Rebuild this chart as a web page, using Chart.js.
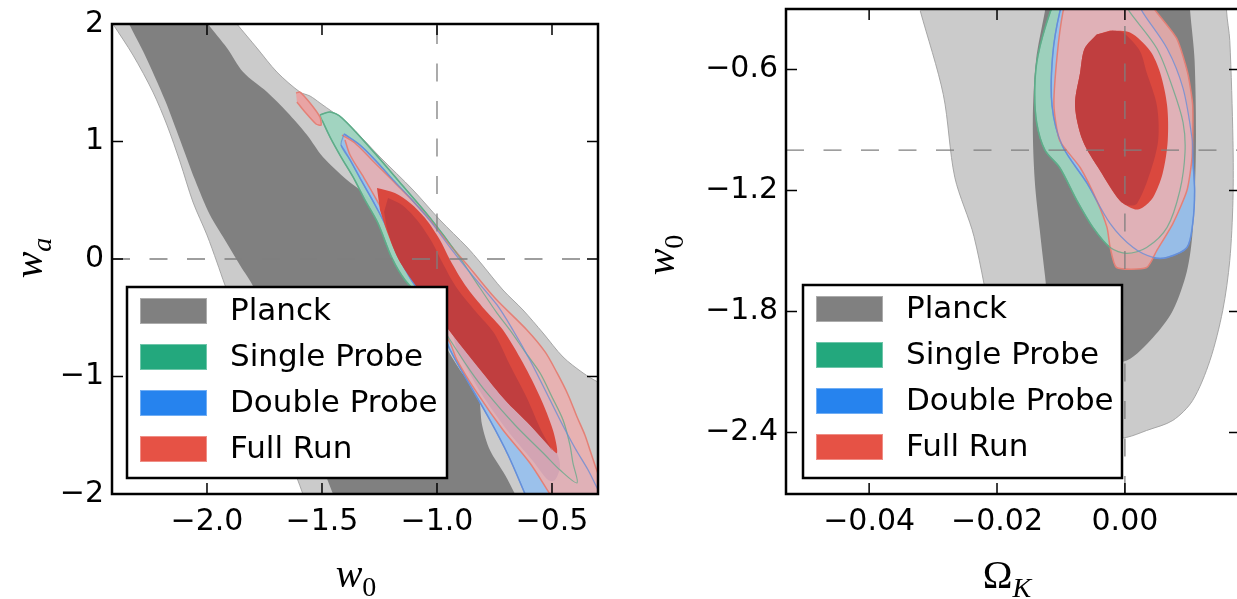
<!DOCTYPE html>
<html><head><meta charset="utf-8">
<script src="https://cdn.jsdelivr.net/npm/chart.js@4.4.1/dist/chart.umd.min.js"></script>
<style>
html,body{margin:0;padding:0;background:#fff;overflow:hidden;width:1237px;height:599px}
#wrap{position:relative;width:1237px;height:599px;overflow:hidden;background:#fff}
#c1{position:absolute;left:0;top:0;width:620px;height:599px}
#c2{position:absolute;left:620px;top:0;width:640px;height:599px}
</style></head><body>
<div id="wrap"><canvas id="c1" width="620" height="599"></canvas><canvas id="c2" width="640" height="599"></canvas></div>
<script>
// ---------------- legend / ticks ----------------
const legendLabels = ['Planck', 'Single Probe', 'Double Probe', 'Full Run'];
const legendColors = ['#808080', '#23a87d', '#2683ee', '#e65245'];
const w0TicksLeft = [-2.0, -1.5, -1.0, -0.5];
const waTicks = [-2, -1, 0, 1, 2];
const okTicks = [-0.04, -0.02, 0.00];
const w0TicksRight = [-2.4, -1.8, -1.2, -0.6];
const w0Fiducial = -1.0, waFiducial = 0.0, okFiducial = 0.0;

// ---------------- left panel: (w0, wa) contours ----------------
const planck95_w0wa = [[-2.44,2.10],[-1.91,2.10],[-1.870,2.00],[-1.783,1.796],[-1.696,1.591],[-1.596,1.421],[-1.552,1.387],[-1.509,1.328],[-1.391,1.157],[-1.248,0.868],[-1.104,0.587],[-0.987,0.332],[-0.870,0.102],[-0.813,-0.026],[-0.713,-0.264],[-0.626,-0.434],[-0.539,-0.630],[-0.452,-0.834],[-0.365,-0.970],[-0.300,-1.047],[-0.25,-1.08],[-0.25,-2.10],[-1.57,-2.10],[-1.583,-2.00],[-1.704,-1.370],[-1.813,-0.774],[-1.922,-0.221],[-1.957,-0.026],[-2.000,0.204],[-2.061,0.485],[-2.117,0.826],[-2.174,1.140],[-2.235,1.421],[-2.322,1.736],[-2.409,2.00]];
const planck68_w0wa = [[-2.365,2.10],[-2.03,2.10],[-1.996,2.00],[-1.913,1.796],[-1.843,1.591],[-1.739,1.421],[-1.652,1.251],[-1.565,1.055],[-1.496,0.868],[-1.391,0.672],[-1.335,0.587],[-1.248,0.417],[-1.174,0.187],[-1.139,-0.009],[-1.117,-0.221],[-1.030,-0.519],[-0.900,-0.945],[-0.822,-1.157],[-0.804,-1.413],[-0.770,-1.626],[-0.704,-1.838],[-0.661,-2.00],[-0.639,-2.10],[-1.43,-2.10],[-1.452,-2.00],[-1.509,-1.711],[-1.639,-1.030],[-1.791,-0.264],[-1.857,-0.051],[-1.922,0.162],[-1.987,0.374],[-2.052,0.672],[-2.117,1.013],[-2.183,1.353],[-2.270,1.736],[-2.339,2.00]];
const single95_w0wa = [[-1.509,1.226],[-1.465,1.251],[-1.413,1.200],[-1.283,0.928],[-1.152,0.630],[-1.030,0.349],[-0.909,0.034],[-0.813,-0.247],[-0.739,-0.460],[-0.683,-0.604],[-0.617,-0.791],[-0.552,-0.970],[-0.500,-1.174],[-0.452,-1.370],[-0.422,-1.583],[-0.409,-1.736],[-0.391,-1.906],[-0.465,-1.796],[-0.530,-1.668],[-0.661,-1.413],[-0.783,-1.140],[-0.857,-0.945],[-0.943,-0.689],[-1.030,-0.417],[-1.139,-0.179],[-1.196,0.009],[-1.257,0.306],[-1.313,0.502],[-1.365,0.698],[-1.417,0.868],[-1.465,1.038],[-1.500,1.183]];
const double95_w0wa = [[-1.404,1.064],[-1.335,0.970],[-1.261,0.826],[-1.191,0.672],[-1.109,0.502],[-1.022,0.306],[-0.935,0.077],[-0.848,-0.136],[-0.739,-0.391],[-0.670,-0.604],[-0.596,-0.860],[-0.530,-1.115],[-0.465,-1.370],[-0.400,-1.609],[-0.343,-1.796],[-0.304,-1.949],[-0.287,-2.017],[-0.28,-2.10],[-0.596,-2.10],[-0.617,-2.00],[-0.691,-1.668],[-0.770,-1.370],[-0.857,-1.072],[-0.943,-0.774],[-0.987,-0.562],[-1.052,-0.349],[-1.117,-0.162],[-1.170,0.034],[-1.222,0.281],[-1.274,0.477],[-1.330,0.672],[-1.378,0.843],[-1.417,0.970]];
const double68_w0wa = [[-0.935,-0.604],[-0.913,-0.774],[-0.878,-0.902],[-0.809,-1.140],[-0.696,-1.455],[-0.583,-1.719],[-0.517,-1.881],[-0.487,-1.881],[-0.465,-1.762],[-0.483,-1.626],[-0.552,-1.370],[-0.661,-1.115],[-0.770,-0.817],[-0.857,-0.562],[-0.922,-0.391]];
const full95_w0wa = [[-1.413,1.055],[-1.357,0.987],[-1.283,0.843],[-1.204,0.689],[-1.117,0.519],[-1.030,0.332],[-0.943,0.119],[-0.857,-0.077],[-0.748,-0.332],[-0.609,-0.604],[-0.530,-0.791],[-0.478,-0.970],[-0.430,-1.157],[-0.391,-1.345],[-0.357,-1.498],[-0.335,-1.626],[-0.309,-1.779],[-0.291,-1.881],[-0.28,-2.10],[-0.474,-2.10],[-0.509,-2.00],[-0.596,-1.736],[-0.713,-1.455],[-0.826,-1.140],[-0.913,-0.860],[-0.943,-0.715],[-1.000,-0.519],[-1.083,-0.221],[-1.148,0.043],[-1.200,0.281],[-1.257,0.485],[-1.317,0.689],[-1.378,0.885],[-1.400,1.013]];
const full95island_w0wa = [[-1.613,1.413],[-1.596,1.421],[-1.552,1.328],[-1.509,1.209],[-1.504,1.140],[-1.526,1.149],[-1.574,1.251],[-1.609,1.336]];
const full68_w0wa = [[-1.261,0.604],[-1.183,0.562],[-1.117,0.477],[-1.052,0.349],[-0.987,0.162],[-0.943,-0.009],[-0.878,-0.221],[-0.791,-0.434],[-0.713,-0.604],[-0.626,-0.885],[-0.552,-1.174],[-0.496,-1.455],[-0.478,-1.651],[-0.517,-1.583],[-0.596,-1.413],[-0.704,-1.200],[-0.804,-0.962],[-0.891,-0.749],[-0.965,-0.562],[-1.039,-0.366],[-1.109,-0.179],[-1.170,0.009],[-1.217,0.230],[-1.248,0.417]];
const full68core_w0wa = [[-1.213,0.519],[-1.152,0.460],[-1.087,0.332],[-1.022,0.145],[-0.978,-0.026],[-0.917,-0.238],[-0.830,-0.451],[-0.752,-0.630],[-0.683,-0.902],[-0.609,-1.183],[-0.548,-1.455],[-0.500,-1.626],[-0.517,-1.583],[-0.596,-1.413],[-0.704,-1.200],[-0.804,-0.962],[-0.891,-0.749],[-0.965,-0.562],[-1.039,-0.366],[-1.109,-0.179],[-1.170,0.009],[-1.213,0.230],[-1.230,0.400]];

// ---------------- right panel: (Omega_K, w0) contours ----------------
const planck95_okw0 = [[-0.0335,-0.20],[0.0160,-0.20],[0.0159,-0.310],[0.0164,-0.456],[0.0169,-0.952],[0.0169,-1.250],[0.0164,-1.547],[0.0153,-1.795],[0.0133,-2.043],[0.0106,-2.241],[0.0075,-2.340],[0.0034,-2.390],[0.0003,-2.424],[-0.0040,-2.440],[-0.0086,-2.439],[-0.0148,-2.365],[-0.0188,-2.190],[-0.0205,-1.919],[-0.0236,-1.428],[-0.0266,-1.135],[-0.0284,-0.724],[-0.0320,-0.310]];
const planck68_okw0 = [[-0.0128,-0.20],[0.0100,-0.20],[0.0102,-0.310],[0.0109,-0.555],[0.0111,-1.000],[0.0106,-1.400],[0.0097,-1.600],[0.0075,-1.795],[0.0044,-1.929],[0.0003,-2.043],[-0.0039,-2.050],[-0.0078,-2.000],[-0.0105,-1.890],[-0.0120,-1.745],[-0.0125,-1.621],[-0.0133,-1.400],[-0.0141,-1.150],[-0.0144,-0.853],[-0.0139,-0.555],[-0.0125,-0.310]];
const single95_okw0 = [[-0.0100,-0.20],[-0.0117,-0.317],[-0.0136,-0.531],[-0.0141,-0.694],[-0.0138,-0.863],[-0.0125,-1.000],[-0.0102,-1.086],[-0.0075,-1.250],[-0.0050,-1.383],[-0.0023,-1.483],[0.0003,-1.512],[0.0034,-1.483],[0.0066,-1.383],[0.0086,-1.200],[0.0094,-1.011],[0.0091,-0.863],[0.0075,-0.694],[0.0050,-0.496],[0.0008,-0.317],[-0.0016,-0.20]];
const double95_okw0 = [[-0.0089,-0.20],[-0.0102,-0.317],[-0.0113,-0.531],[-0.0114,-0.778],[-0.0098,-0.977],[-0.0059,-1.165],[-0.0023,-1.364],[0.0013,-1.483],[0.0044,-1.532],[0.0066,-1.532],[0.0097,-1.483],[0.0106,-1.364],[0.0109,-1.200],[0.0106,-1.036],[0.0105,-0.942],[0.0091,-0.694],[0.0066,-0.496],[0.0028,-0.317],[0.0008,-0.20]];
const full95_okw0 = [[-0.0086,-0.20],[-0.0097,-0.317],[-0.0106,-0.531],[-0.0111,-0.778],[-0.0102,-0.952],[-0.0070,-1.086],[-0.0044,-1.250],[-0.0028,-1.383],[-0.0023,-1.483],[-0.0013,-1.582],[0.0034,-1.582],[0.0050,-1.497],[0.0075,-1.364],[0.0097,-1.200],[0.0105,-1.036],[0.0106,-0.778],[0.0098,-0.615],[0.0081,-0.446],[0.0050,-0.317],[0.0023,-0.20]];
const full68_okw0 = [[-0.0023,-0.407],[0.0008,-0.417],[0.0039,-0.506],[0.0055,-0.615],[0.0066,-0.778],[0.0067,-0.952],[0.0059,-1.116],[0.0044,-1.235],[0.0028,-1.284],[0.0016,-1.294],[-0.0008,-1.250],[-0.0039,-1.101],[-0.0066,-0.952],[-0.0078,-0.778],[-0.0070,-0.615],[-0.0063,-0.496],[-0.0044,-0.426]];
const full68core_okw0 = [[-0.0019,-0.407],[-0.0003,-0.417],[0.0023,-0.506],[0.0034,-0.615],[0.0050,-0.778],[0.0052,-0.952],[0.0039,-1.116],[0.0019,-1.264],[0.0005,-1.274],[-0.0008,-1.250],[-0.0039,-1.101],[-0.0066,-0.952],[-0.0078,-0.778],[-0.0070,-0.615],[-0.0063,-0.496],[-0.0044,-0.426]];

// ---------------- styles ----------------
const C = {
  p95: '#cbcbcb', p95e: 'rgba(160,160,160,0.9)', p68: '#808080',
  g95: 'rgba(158,212,191,0.95)', g95e: 'rgb(95,178,142)', g95o: 'rgba(95,170,135,0.75)',
  b95: 'rgba(152,192,236,0.95)', b95e: 'rgb(105,150,225)', b95o: 'rgba(100,140,215,0.75)', b68: 'rgb(70,110,205)',
  r95: 'rgba(236,174,174,0.85)', r95e: 'rgb(228,128,118)',
  r68: 'rgb(218,72,62)', r68c: 'rgb(192,62,63)', dash: '#7f7f7f'
};
const toXY = a => a.map(p => ({x: p[0], y: p[1]}));
function region(pts, fill, edge, edgeW, tension) {
  return { data: toXY(pts), showLine: true, fill: 'shape', backgroundColor: fill,
    borderColor: edge || 'rgba(0,0,0,0)', borderWidth: edge ? edgeW : 0.01,
    pointRadius: 0, tension: tension === undefined ? 0.3 : tension, clip: 0 };
}
function outline(pts, color, w) {
  const p = pts.concat([pts[0]]);
  return { data: toXY(p), showLine: true, fill: false, borderColor: color, borderWidth: w,
    pointRadius: 0, tension: 0.3, clip: 0 };
}
function dashLine(pts) {
  return { data: toXY(pts), showLine: true, fill: false, borderColor: C.dash, borderWidth: 1.3,
    borderDash: [18, 19.5], pointRadius: 0, tension: 0, clip: 0 };
}
function ordered(ds) { ds.forEach((d, i) => d.order = ds.length - i); return ds; }
function fmt(v, dec) { const s = Math.abs(v) < 1e-12 ? (0).toFixed(dec) : v.toFixed(dec); return s.replace('-', '\u2212'); }

function drawTitle(ctx, T) {
  ctx.save();
  ctx.translate(T.x, T.y);
  if (T.rot) ctx.rotate(T.rot);
  let w = 0;
  T.parts.forEach(p => { ctx.font = p.f; p.w = ctx.measureText(p.t).width; w += p.w + (p.gap || 0); });
  let cx = -w / 2;
  ctx.fillStyle = '#000'; ctx.textBaseline = 'alphabetic'; ctx.textAlign = 'left';
  T.parts.forEach(p => { ctx.font = p.f; ctx.fillText(p.t, cx + (p.gap || 0), p.dy || 0); cx += p.w + (p.gap || 0); });
  ctx.restore();
}

const decor = {
  id: 'panelDecor',
  afterDraw(chart, args, o) {
    const {ctx, chartArea: a, scales: {x, y}} = chart;
    ctx.save();
    ctx.strokeStyle = '#000'; ctx.lineWidth = 1.5;
    const tl = 11;
    ctx.beginPath();
    x.ticks.forEach(t => { const px = x.getPixelForValue(t.value);
      ctx.moveTo(px, a.bottom); ctx.lineTo(px, a.bottom - tl); ctx.moveTo(px, a.top); ctx.lineTo(px, a.top + tl); });
    y.ticks.forEach(t => { const py = y.getPixelForValue(t.value);
      ctx.moveTo(a.left, py); ctx.lineTo(a.left + tl, py); ctx.moveTo(a.right, py); ctx.lineTo(a.right - tl, py); });
    ctx.stroke();
    ctx.lineWidth = 2.5;
    ctx.strokeRect(a.left, a.top, a.right - a.left, a.bottom - a.top);
    const L = o.legend;
    const bx = a.left + L.dx, by = a.bottom - L.dy - L.h;
    ctx.fillStyle = '#fff'; ctx.fillRect(bx, by, L.w, L.h);
    ctx.lineWidth = 2.5; ctx.strokeStyle = '#000'; ctx.strokeRect(bx, by, L.w, L.h);
    ctx.font = '31px "DejaVu Sans"'; ctx.textBaseline = 'middle'; ctx.textAlign = 'left';
    legendLabels.forEach((lab, i) => {
      const cy = by + 24 + 46 * i;
      ctx.fillStyle = legendColors[i];
      ctx.fillRect(bx + 13, cy - 13, 67, 26);
      ctx.lineWidth = 1; ctx.strokeStyle = 'rgba(255,255,255,0.35)';
      ctx.strokeRect(bx + 13.5, cy - 12.5, 66, 25);
      ctx.fillStyle = '#000';
      ctx.fillText(lab, bx + 103, cy + 1);
    });
    drawTitle(ctx, o.xTitle);
    drawTitle(ctx, o.yTitle);
    ctx.restore();
  }
};

const tickFont = {family: 'DejaVu Sans', size: 30};
function makeChart(canvas, datasets, cfg) {
  return new Chart(canvas, {
    type: 'scatter',
    data: {datasets},
    options: {
      responsive: false, animation: false, events: [], indexAxis: 'y',
      layout: {padding: {left: 0, top: cfg.top, right: cfg.right, bottom: 0}},
      elements: {line: {capBezierPoints: false}, point: {radius: 0}},
      plugins: {legend: {display: false}, tooltip: {enabled: false}, panelDecor: cfg.decor},
      scales: {
        x: {type: 'linear', position: 'bottom', min: cfg.xMin, max: cfg.xMax,
          afterBuildTicks: s => { s.ticks = cfg.xTicks.map(v => ({value: v})); },
          afterFit: s => { s.height = cfg.xAxisH; s.paddingLeft = 0; s.paddingRight = 0; s.paddingTop = 0; s.paddingBottom = 0; },
          grid: {display: false, drawTicks: false}, border: {display: false},
          ticks: {color: '#000', font: tickFont, padding: 10, maxRotation: 0, minRotation: 0, autoSkip: false, callback: v => fmt(v, cfg.xDec)}},
        y: {type: 'linear', position: 'left', min: cfg.yMin, max: cfg.yMax,
          afterBuildTicks: s => { s.ticks = cfg.yTicks.map(v => ({value: v})); },
          afterFit: s => { s.width = cfg.yAxisW; s.paddingLeft = 0; s.paddingRight = 0; s.paddingTop = 0; s.paddingBottom = 0; },
          grid: {display: false, drawTicks: false}, border: {display: false},
          ticks: {color: '#000', font: tickFont, padding: 8, autoSkip: false, callback: v => fmt(v, cfg.yDec)}}
      }
    },
    plugins: [decor]
  });
}

const serifI = sz => 'italic ' + sz + 'px "Liberation Serif"';
const serif = sz => sz + 'px "Liberation Serif"';

// left panel
const leftW0Min = -2.413, leftW0Max = -0.30, waMin = -2, waMax = 2;
makeChart(document.getElementById('c1'), ordered([
  region(planck95_w0wa, C.p95, C.p95e, 1),
  region(planck68_w0wa, C.p68),
  region(single95_w0wa, C.g95, C.g95e, 1.5),
  region(double95_w0wa, C.b95, C.b95e, 1.5),
  region(double68_w0wa, C.b68),
  region(full95_w0wa, C.r95, C.r95e, 1.5),
  outline(single95_w0wa, C.g95o, 1.2),
  outline(double95_w0wa, C.b95o, 1.2),
  region(full95island_w0wa, 'rgba(236,160,160,0.9)', C.r95e, 1.5, 0.2),
  region(full68_w0wa, C.r68),
  region(full68core_w0wa, C.r68c),
  dashLine([[w0Fiducial, waMin], [w0Fiducial, waMax]]),
  dashLine([[leftW0Min, waFiducial], [leftW0Max, waFiducial]])
]), {
  top: 24, right: 22, xAxisH: 105, yAxisW: 112,
  xMin: leftW0Min, xMax: leftW0Max, yMin: waMin, yMax: waMax,
  xTicks: w0TicksLeft, yTicks: waTicks, xDec: 1, yDec: 0,
  decor: {
    legend: {dx: 15, dy: 16, w: 320, h: 191},
    xTitle: {x: 356, y: 587, parts: [{t: 'w', f: serifI(40)}, {t: '0', f: serif(28), dy: 9}]},
    yTitle: {x: 42, y: 258, rot: -Math.PI / 2, parts: [{t: 'w', f: serifI(40)}, {t: 'a', f: serifI(28), dy: 9}]}
  }
});

// right panel
const okMin = -0.053, okMax = 0.018, rW0Min = -2.705, rW0Max = -0.30;
makeChart(document.getElementById('c2'), ordered([
  region(planck95_okw0, C.p95, C.p95e, 1),
  region(planck68_okw0, C.p68),
  region(single95_okw0, C.g95, C.g95e, 1.5),
  region(double95_okw0, C.b95, C.b95e, 1.5),
  region(full95_okw0, C.r95, C.r95e, 1.5, 0.2),
  outline(single95_okw0, C.g95o, 1.2),
  outline(double95_okw0, C.b95o, 1.2),
  region(full68_okw0, C.r68),
  region(full68core_okw0, C.r68c),
  dashLine([[okFiducial, rW0Min], [okFiducial, rW0Max]]),
  dashLine([[okMin, w0Fiducial], [okMax, w0Fiducial]])
]), {
  top: 9, right: 20, xAxisH: 105, yAxisW: 166,
  xMin: okMin, xMax: okMax, yMin: rW0Min, yMax: rW0Max,
  xTicks: okTicks, yTicks: w0TicksRight, xDec: 2, yDec: 1,
  decor: {
    legend: {dx: 17, dy: 16, w: 319, h: 193},
    xTitle: {x: 387, y: 588, parts: [{t: '\u03A9', f: serif(40)}, {t: 'K', f: serifI(28), dy: 9}]},
    yTitle: {x: 54, y: 255, rot: -Math.PI / 2, parts: [{t: 'w', f: serifI(40)}, {t: '0', f: serif(28), dy: 9}]}
  }
});
</script></body></html>
